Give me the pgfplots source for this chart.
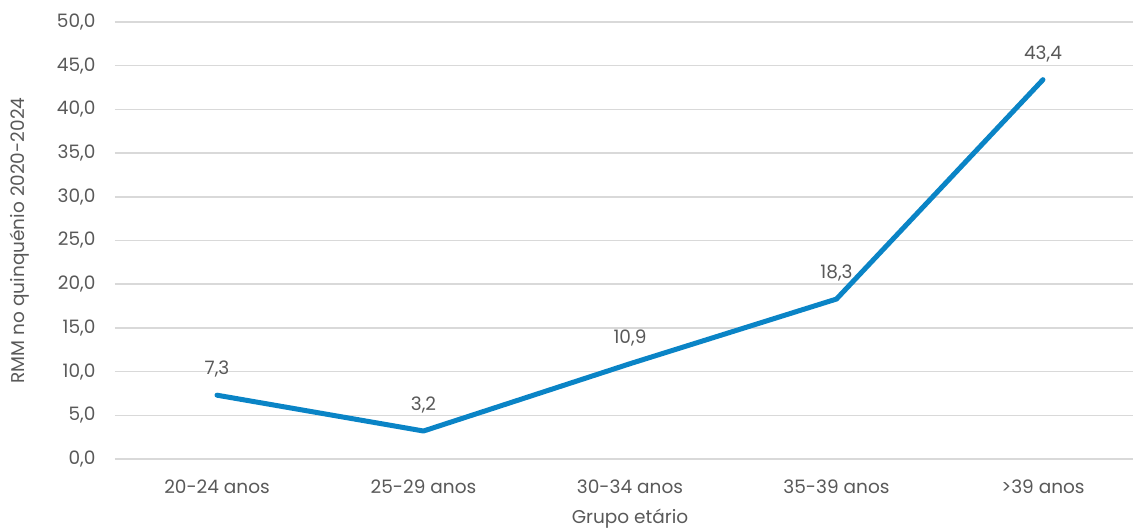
\documentclass[border=0pt]{standalone}
\usepackage{fontspec}
\setmainfont{Poppins}
\usepackage{pgfplots}
\pgfplotsset{compat=1.18}
\definecolor{linha}{HTML}{0A84C6}
\definecolor{grelha}{HTML}{D9D9D9}
\definecolor{texto}{HTML}{595959}
\newcommand{\fonte}{\fontsize{18.5}{21}\selectfont}
\begin{document}
\begin{tikzpicture}
\begin{axis}[
  name=ax,
  scale only axis,
  width=1018pt, height=437pt,
  xmin=-0.494, xmax=4.436,
  ymin=0, ymax=50,
  ytick={0,5,...,50},
  xtick={0,...,4},
  xticklabels={20-24 anos, 25-29 anos, 30-34 anos, 35-39 anos, >39 anos},
  axis line style={draw=none},
  major tick length=0pt,
  ymajorgrids=true,
  grid style={grelha, line width=1.5pt},
  clip=false,
  tick label style={font=\fonte, text=texto},
  /pgf/number format/assume math mode=true,
  yticklabel style={xshift=-16pt, /pgf/number format/.cd, fixed, fixed zerofill, precision=1, use comma},
  xticklabel style={yshift=-17pt},
  nodes near coords,
  every node near coord/.append style={font=\fonte, text=texto, yshift=12pt,
    /pgf/number format/.cd, fixed, fixed zerofill, precision=1, use comma},
]
\addplot[linha, line width=5pt, line join=round, line cap=round] coordinates {
  (0,7.3) (1,3.2) (2,10.9) (3,18.3) (4,43.4)
};
\node[font=\fonte, text=texto] at (axis cs:2,0) [yshift=-60pt] {Grupo etário};
\end{axis}
\node[font=\fonte, text=texto, rotate=90] at ([xshift=-95pt]ax.west) {RMM no quinquénio 2020-2024};
\pgfresetboundingbox
\path[use as bounding box] ([xshift=-115pt, yshift=-70pt]ax.south west) rectangle ([yshift=22pt]ax.north east);
\end{tikzpicture}
\end{document}
